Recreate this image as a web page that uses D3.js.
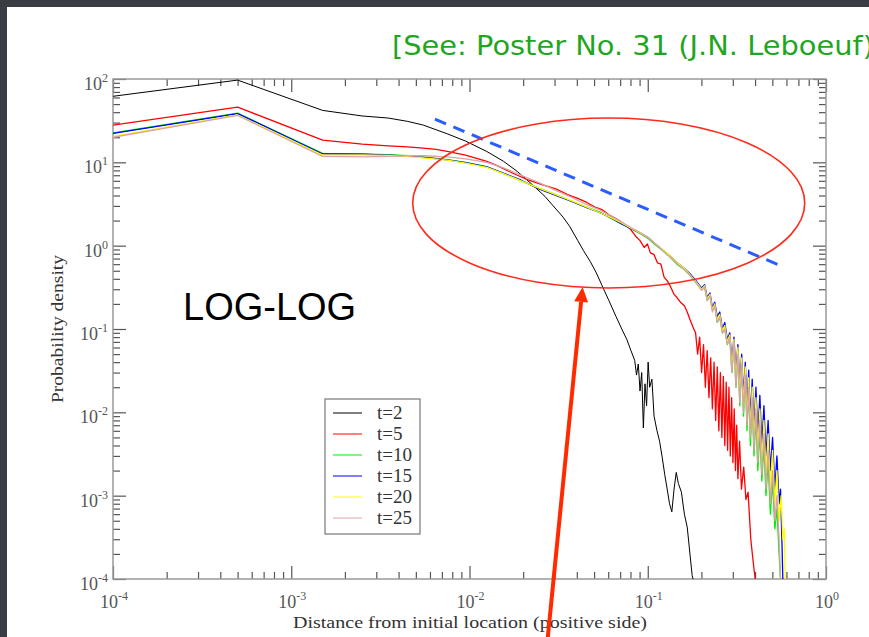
<!DOCTYPE html>
<html lang="en">
<head>
<meta charset="UTF-8">
<title>Probability density (log-log)</title>
<script src="https://cdn.jsdelivr.net/npm/d3@7"></script>
<style>
  html, body { margin: 0; padding: 0; background: #3a3d44; }
  svg { display: block; }
</style>
</head>
<body>
<svg id="chart" width="869" height="637"></svg>
<script>
// ---- data: [distance, probability density] ----
const t2 = [[1e-4,62],[5e-4,97],[1.5e-3,42],[2.5e-3,36],[3.5e-3,34],[4.5e-3,31],[5.5e-3,28],[7.5e-3,22],[9.5e-3,18],[0.0125,13.5],[0.0155,10.3],[0.0185,7.8],[0.0225,5.4],[0.0265,3.9],[0.0295,3.0],[0.0335,2.2],[0.0365,1.7],[0.0405,1.15],[0.0435,0.88],[0.0475,0.65],[0.0515,0.47],[0.0555,0.33],[0.0605,0.22],[0.0665,0.14],[0.0715,0.1],[0.0765,0.074],[0.0805,0.055],[0.0845,0.042],[0.0865,0.028],[0.0885,0.038],[0.0905,0.018],[0.0925,0.03],[0.0945,0.0065],[0.0965,0.022],[0.0985,0.012],[0.1005,0.04],[0.1025,0.02],[0.1055,0.025],[0.1085,0.009],[0.1125,0.0061],[0.1165,0.0045],[0.1205,0.0029],[0.1245,0.0018],[0.1285,0.0012],[0.1325,0.0008],[0.1365,0.00064],[0.1405,0.0012],[0.1445,0.0019],[0.1485,0.0014],[0.1545,0.0011],[0.1605,0.0006],[0.1665,0.00042],[0.1725,0.0002],[0.1775,0.00011],[0.1795,0.0001]];

const t5 = [[1e-4,28],[5e-4,46],[1.5e-3,18.5],[2.5e-3,16.5],[3.5e-3,15.8],[4.5e-3,15.3],[5.5e-3,14.8],[6.5e-3,14.3],[7.5e-3,13.5],[9.5e-3,12.2],[0.0125,10.3],[0.0145,9.0],[0.0175,7.4],[0.0215,6.1],[0.0255,5.4],[0.0305,4.8],[0.0355,4.1],[0.0405,3.7],[0.0455,3.3],[0.0505,2.9],[0.0555,2.7],[0.0605,2.35],[0.0655,2.15],[0.0705,1.95],[0.0755,1.75],[0.0805,1.55],[0.0855,1.3],[0.0905,1.15],[0.0955,0.95],[0.0995,1.05],[0.1035,0.82],[0.1085,0.78],[0.1135,0.62],[0.1185,0.6],[0.1235,0.42],[0.1285,0.38],[0.1345,0.32],[0.1405,0.26],[0.1455,0.24],[0.1525,0.21],[0.1605,0.19],[0.1665,0.16],[0.1725,0.13],[0.1795,0.105],[0.1855,0.09],[0.1905,0.05],[0.1955,0.08],[0.2005,0.03],[0.2055,0.065],[0.2105,0.02],[0.2155,0.055],[0.2205,0.015],[0.2255,0.045],[0.2305,0.011],[0.2355,0.04],[0.2405,0.008],[0.2455,0.035],[0.2505,0.006],[0.2555,0.03],[0.2605,0.005],[0.2655,0.027],[0.2705,0.004],[0.2755,0.023],[0.2805,0.0035],[0.2855,0.02],[0.2905,0.003],[0.2955,0.015],[0.3005,0.0025],[0.3055,0.011],[0.3105,0.002],[0.3155,0.007],[0.3205,0.0016],[0.3275,0.0045],[0.3355,0.0012],[0.3455,0.0022],[0.3555,0.0009],[0.3655,0.0011],[0.3785,0.0003],[0.3905,0.00016],[0.4005,0.0001]];

const t10 = [[1e-4,22.5],[5e-4,39],[1.5e-3,12.8],[2.5e-3,12.6],[3.5e-3,12.4],[4.5e-3,12.0],[5.5e-3,11.6],[7.5e-3,10.8],[9.5e-3,10.0],[0.0125,8.9],[0.0155,7.3],[0.0195,6.0],[0.0245,4.9],[0.0305,4.1],[0.0375,3.4],[0.0455,2.9],[0.0535,2.55],[0.0615,2.15],[0.0705,1.85],[0.0805,1.6],[0.0905,1.4],[0.1005,1.22],[0.1105,1.02],[0.1205,0.88],[0.1325,0.74],[0.1455,0.6],[0.1595,0.52],[0.1725,0.44],[0.1865,0.36],[0.2005,0.3],[0.2085,0.32],[0.2155,0.22],[0.2235,0.25],[0.2305,0.17],[0.2375,0.19],[0.2455,0.12],[0.2535,0.14],[0.2625,0.09],[0.2705,0.1],[0.2795,0.065],[0.2885,0.08],[0.2965,0.03],[0.3045,0.07],[0.3125,0.02],[0.3205,0.05],[0.3285,0.012],[0.3365,0.04],[0.3445,0.009],[0.3525,0.03],[0.3605,0.006],[0.3685,0.02],[0.3765,0.004],[0.3855,0.014],[0.3945,0.003],[0.4045,0.009],[0.4145,0.002],[0.4255,0.006],[0.4365,0.0015],[0.4485,0.004],[0.4605,0.001],[0.4735,0.0025],[0.4875,0.0006],[0.5015,0.0015],[0.5165,0.0004],[0.5305,0.0007],[0.5455,0.0002],[0.5555,0.0001]];

const t15 = [[1e-4,22.3],[5e-4,38.5],[1.5e-3,12.6],[2.5e-3,12.5],[3.5e-3,12.2],[4.5e-3,11.9],[5.5e-3,11.5],[7.5e-3,10.7],[9.5e-3,9.9],[0.0125,8.8],[0.0155,7.4],[0.0195,6.1],[0.0245,4.8],[0.0305,4.0],[0.0375,3.4],[0.0455,2.85],[0.0535,2.5],[0.0615,2.2],[0.0705,1.85],[0.0805,1.6],[0.0905,1.42],[0.1005,1.25],[0.1105,1.05],[0.1205,0.9],[0.1325,0.76],[0.1455,0.63],[0.1595,0.54],[0.1725,0.46],[0.1865,0.38],[0.2005,0.31],[0.2085,0.34],[0.2155,0.24],[0.2235,0.27],[0.2305,0.18],[0.2375,0.21],[0.2455,0.14],[0.2535,0.16],[0.2625,0.1],[0.2705,0.12],[0.2795,0.075],[0.2885,0.09],[0.2965,0.04],[0.3045,0.08],[0.3125,0.03],[0.3205,0.065],[0.3285,0.02],[0.3365,0.05],[0.3445,0.015],[0.3525,0.04],[0.3605,0.011],[0.3685,0.032],[0.3765,0.008],[0.3855,0.025],[0.3945,0.006],[0.4045,0.02],[0.4145,0.005],[0.4255,0.016],[0.4365,0.004],[0.4485,0.012],[0.4605,0.003],[0.4735,0.008],[0.4875,0.002],[0.5015,0.005],[0.5165,0.0012],[0.5305,0.003],[0.5455,0.0008],[0.5555,0.0012],[0.5655,0.0003],[0.5725,0.0001]];

const t20 = [[1e-4,20.5],[5e-4,37],[1.5e-3,12.2],[2.5e-3,12.3],[3.5e-3,12.1],[4.5e-3,11.7],[5.5e-3,11.3],[7.5e-3,10.6],[9.5e-3,9.8],[0.0125,8.7],[0.0155,7.3],[0.0195,6.0],[0.0245,4.9],[0.0305,4.1],[0.0375,3.45],[0.0455,2.9],[0.0535,2.5],[0.0615,2.2],[0.0705,1.9],[0.0805,1.62],[0.0905,1.42],[0.1005,1.25],[0.1105,1.05],[0.1205,0.9],[0.1325,0.77],[0.1455,0.63],[0.1595,0.54],[0.1725,0.45],[0.1865,0.37],[0.2005,0.3],[0.2085,0.33],[0.2155,0.23],[0.2235,0.26],[0.2305,0.17],[0.2375,0.2],[0.2455,0.13],[0.2535,0.15],[0.2625,0.095],[0.2705,0.11],[0.2795,0.07],[0.2885,0.085],[0.2965,0.035],[0.3045,0.075],[0.3125,0.025],[0.3205,0.06],[0.3285,0.016],[0.3365,0.045],[0.3445,0.012],[0.3525,0.035],[0.3605,0.008],[0.3685,0.026],[0.3765,0.006],[0.3855,0.02],[0.3945,0.0045],[0.4045,0.015],[0.4145,0.0035],[0.4255,0.011],[0.4365,0.0025],[0.4485,0.008],[0.4605,0.0018],[0.4735,0.0055],[0.4875,0.0012],[0.5015,0.0035],[0.5165,0.0008],[0.5305,0.002],[0.5455,0.0005],[0.5605,0.001],[0.5725,0.0003],[0.5835,0.0004],[0.5905,0.0001]];

const t25 = [[1e-4,20],[5e-4,36.5],[1.5e-3,11.8],[2.5e-3,11.6],[3.5e-3,11.8],[4.5e-3,12.0],[5.5e-3,12.0],[7.5e-3,11.6],[9.5e-3,11.0],[0.0125,10.0],[0.0155,8.6],[0.0195,7.0],[0.0245,5.7],[0.0305,4.6],[0.0375,3.8],[0.0455,3.1],[0.0535,2.7],[0.0615,2.3],[0.0705,1.95],[0.0805,1.65],[0.0905,1.45],[0.1005,1.25],[0.1105,1.05],[0.1205,0.88],[0.1325,0.74],[0.1455,0.61],[0.1595,0.52],[0.1725,0.44],[0.1865,0.36],[0.2005,0.29],[0.2085,0.32],[0.2155,0.22],[0.2235,0.25],[0.2305,0.16],[0.2375,0.19],[0.2455,0.12],[0.2535,0.14],[0.2625,0.09],[0.2705,0.1],[0.2795,0.065],[0.2885,0.08],[0.2965,0.03],[0.3045,0.07],[0.3125,0.02],[0.3205,0.05],[0.3285,0.013],[0.3365,0.038],[0.3445,0.01],[0.3525,0.028],[0.3605,0.007],[0.3685,0.02],[0.3765,0.005],[0.3855,0.015],[0.3945,0.0035],[0.4045,0.011],[0.4145,0.0025],[0.4255,0.008],[0.4365,0.0018],[0.4485,0.0055],[0.4605,0.0012],[0.4735,0.0035],[0.4875,0.0008],[0.5015,0.002],[0.5165,0.0005],[0.5305,0.001],[0.5455,0.0003],[0.5555,0.0001]];

const seriesLabels = ['t=2', 't=5', 't=10', 't=15', 't=20', 't=25'];
const seriesColors = ['#000000', '#ff0000', '#00ee00', '#0000ff', '#ffff00', '#dba3a3'];
const seriesData = [t2, t5, t10, t15, t20, t25];

const xMajor = [1e-4, 1e-3, 1e-2, 1e-1, 1];
const yMajor = [1e-4, 1e-3, 1e-2, 1e-1, 1, 10, 100];

// annotations, in data units
const ellipseBounds = [[0.0048, 0.31], [0.76, 34]];
const guideLine = [[0.0064, 33], [0.54, 0.59]];
const arrowPts = [[0.0275, 2e-5], [0.0431, 0.32]];

// ---- drawing ----
const svg = d3.select('#chart');
const W = 869, H = 637;
const plot = { left: 113, right: 826, top: 79, bottom: 579 };

const x = d3.scaleLog().domain([1e-4, 1]).range([plot.left, plot.right]);
const y = d3.scaleLog().domain([1e-4, 100]).range([plot.bottom, plot.top]);

// slide background
svg.append('rect').attr('width', W).attr('height', H).attr('fill', '#3a3d44');
svg.append('rect').attr('x', 7).attr('y', 7).attr('width', W - 7).attr('height', H - 7).attr('fill', '#ffffff');

svg.append('text')
  .attr('x', 392).attr('y', 55)
  .attr('font-family', '"DejaVu Sans", sans-serif')
  .attr('font-size', 27)
  .attr('fill', '#1fa61f')
  .attr('textLength', 482).attr('lengthAdjust', 'spacingAndGlyphs')
  .text('[See: Poster No. 31 (J.N. Leboeuf)');

svg.append('defs').append('clipPath').attr('id', 'clip')
  .append('rect')
  .attr('x', plot.left).attr('y', plot.top)
  .attr('width', plot.right - plot.left).attr('height', plot.bottom - plot.top);

// minor ticks
function minors(lo, hi) {
  const out = [];
  for (let k = lo; k < hi; k++) for (let m = 2; m <= 9; m++) out.push(m * Math.pow(10, k));
  return out;
}
const xMinor = minors(-4, 0);
const yMinor = minors(-4, 2);

function tickAxis(axis, vals, size, tr) {
  const g = svg.append('g').attr('transform', tr)
    .call(axis.tickValues(vals).tickSize(size).tickSizeOuter(0).tickFormat(''));
  g.select('.domain').remove();
  g.selectAll('line').attr('stroke', '#555').attr('stroke-width', 1.2);
}
tickAxis(d3.axisBottom(x), xMajor, -13, `translate(0,${plot.bottom})`);
tickAxis(d3.axisBottom(x), xMinor, -7, `translate(0,${plot.bottom})`);
tickAxis(d3.axisTop(x), xMajor, -13, `translate(0,${plot.top})`);
tickAxis(d3.axisTop(x), xMinor, -7, `translate(0,${plot.top})`);
tickAxis(d3.axisLeft(y), yMajor, -13, `translate(${plot.left},0)`);
tickAxis(d3.axisLeft(y), yMinor, -7, `translate(${plot.left},0)`);
tickAxis(d3.axisRight(y), yMajor, -13, `translate(${plot.right},0)`);
tickAxis(d3.axisRight(y), yMinor, -7, `translate(${plot.right},0)`);

svg.append('rect')
  .attr('x', plot.left).attr('y', plot.top)
  .attr('width', plot.right - plot.left).attr('height', plot.bottom - plot.top)
  .attr('fill', 'none').attr('stroke', '#999').attr('stroke-width', 1.5);

// tick labels: 10 with superscript exponent
const serif = '"Liberation Serif", "Times New Roman", serif';
function powLabel(t, v) {
  const e = Math.round(Math.log10(v));
  t.append('tspan').text('10');
  t.append('tspan').attr('font-size', 12).attr('dy', -8).text(e);
}
svg.append('g').selectAll('text').data(xMajor).join('text')
  .attr('x', d => x(d) + 1).attr('y', 608)
  .attr('text-anchor', 'middle')
  .attr('font-family', serif).attr('font-size', 18).attr('fill', '#555')
  .each(function (d) { powLabel(d3.select(this), d); });
svg.append('g').selectAll('text').data(yMajor).join('text')
  .attr('x', 108).attr('y', d => y(d) + 11)
  .attr('text-anchor', 'end')
  .attr('font-family', serif).attr('font-size', 18).attr('fill', '#555')
  .each(function (d) { powLabel(d3.select(this), d); });

svg.append('text')
  .attr('x', 293).attr('y', 628)
  .attr('font-family', serif).attr('font-size', 17).attr('fill', '#333')
  .attr('textLength', 354).attr('lengthAdjust', 'spacingAndGlyphs')
  .text('Distance from initial location (positive side)');
svg.append('text')
  .attr('transform', 'translate(63,403) rotate(-90)')
  .attr('font-family', serif).attr('font-size', 17).attr('fill', '#333')
  .attr('textLength', 148).attr('lengthAdjust', 'spacingAndGlyphs')
  .text('Probability density');

// series
const line = d3.line().x(d => x(d[0])).y(d => y(d[1]));
svg.append('g').attr('clip-path', 'url(#clip)')
  .selectAll('path').data(seriesData).join('path')
  .attr('d', line)
  .attr('fill', 'none')
  .attr('stroke', (d, i) => seriesColors[i])
  .attr('stroke-width', (d, i) => i === 0 ? 1 : 1.3)
  .attr('stroke-linejoin', 'round');

// legend
const lg = svg.append('g').attr('transform', 'translate(325,399)');
lg.append('rect').attr('width', 95).attr('height', 135)
  .attr('fill', '#fff').attr('stroke', '#777').attr('stroke-width', 1.2);
const rows = lg.selectAll('g').data(seriesLabels).join('g')
  .attr('transform', (d, i) => `translate(0,${14 + i * 21})`);
rows.append('line').attr('x1', 8).attr('x2', 37)
  .attr('stroke', (d, i) => seriesColors[i]).attr('stroke-width', 1);
rows.append('text').attr('x', 52).attr('y', 6)
  .attr('font-family', serif).attr('font-size', 19).attr('fill', '#333')
  .text(d => d);

// LOG-LOG label
svg.append('text').attr('x', 183).attr('y', 320)
  .attr('font-family', '"Liberation Sans", Arial, sans-serif')
  .attr('font-size', 38).attr('fill', '#000')
  .text('LOG-LOG');

// guide line (dashed blue)
svg.append('line')
  .attr('x1', x(guideLine[0][0])).attr('y1', y(guideLine[0][1]))
  .attr('x2', x(guideLine[1][0])).attr('y2', y(guideLine[1][1]))
  .attr('stroke', '#2a5cff').attr('stroke-width', 3)
  .attr('stroke-dasharray', '12,8');

// ellipse
const ex0 = x(ellipseBounds[0][0]), ex1 = x(ellipseBounds[1][0]);
const ey0 = y(ellipseBounds[1][1]), ey1 = y(ellipseBounds[0][1]);
svg.append('ellipse')
  .attr('cx', (ex0 + ex1) / 2).attr('cy', (ey0 + ey1) / 2)
  .attr('rx', (ex1 - ex0) / 2).attr('ry', (ey1 - ey0) / 2)
  .attr('fill', 'none').attr('stroke', '#ff2a1a').attr('stroke-width', 1.6);

// arrow
const ax0 = x(arrowPts[0][0]), ay0 = y(arrowPts[0][1]);
const ax1 = x(arrowPts[1][0]), ay1 = y(arrowPts[1][1]);
const len = Math.hypot(ax1 - ax0, ay1 - ay0);
const ux = (ax1 - ax0) / len, uy = (ay1 - ay0) / len;
const headL = 15, headW = 7;
const bx = ax1 - ux * headL, by = ay1 - uy * headL;
svg.append('line')
  .attr('x1', ax0).attr('y1', ay0).attr('x2', bx).attr('y2', by)
  .attr('stroke', '#ff2a00').attr('stroke-width', 4);
svg.append('path')
  .attr('d', `M${ax1},${ay1}L${bx - uy * headW},${by + ux * headW}L${bx + uy * headW},${by - ux * headW}Z`)
  .attr('fill', '#ff2a00');
</script>
</body>
</html>
